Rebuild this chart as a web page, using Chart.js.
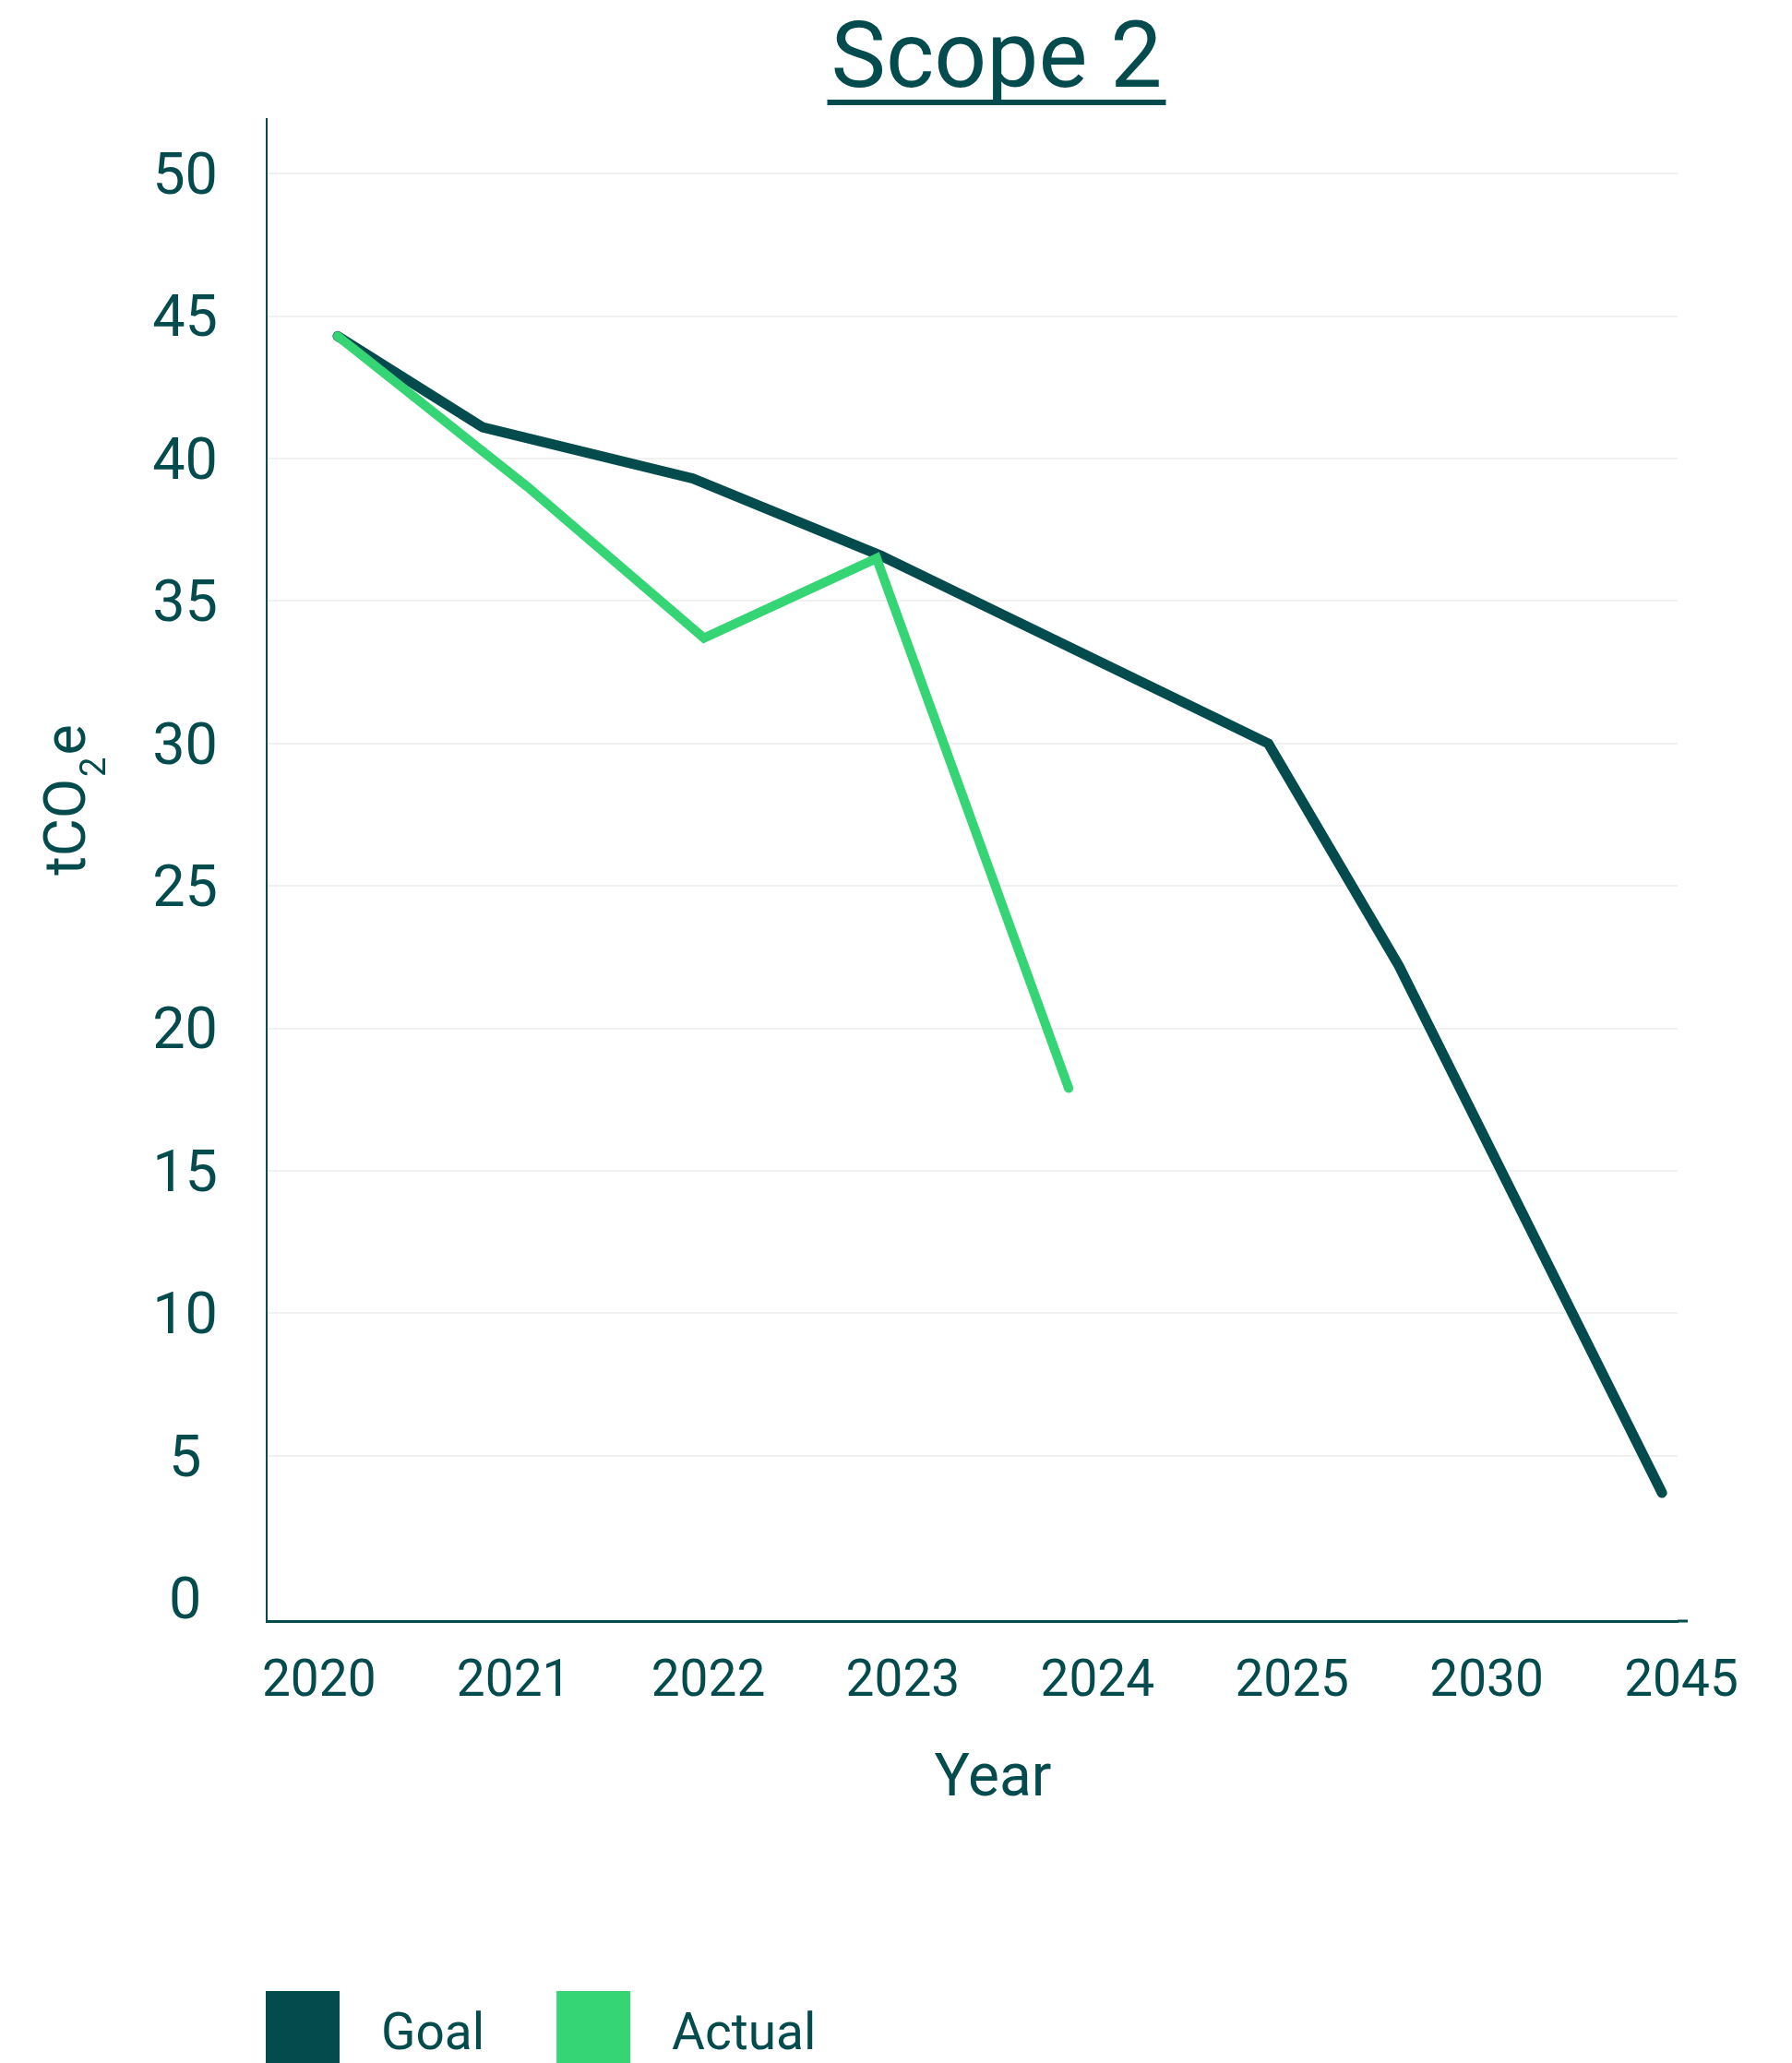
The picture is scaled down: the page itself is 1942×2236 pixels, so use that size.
<!DOCTYPE html>
<html>
<head>
<meta charset="utf-8">
<title>Scope 2</title>
<script src="https://cdn.jsdelivr.net/npm/chart.js@4.4.1/dist/chart.umd.min.js"></script>
<style>
  html, body { margin: 0; padding: 0; background: #ffffff; }
  #wrap { width: 1942px; height: 2236px; position: relative; }
</style>
</head>
<body>
<div id="wrap"><canvas id="scope2"></canvas></div>
<script>
// Year labels along the horizontal axis
const categories = ['2020', '2021', '2022', '2023', '2024', '2025', '2030', '2045'];

// Vertex placement along the year axis, in category steps
const goalPositions = [0.096, 0.841, 1.922, 2.885, 3.852, 4.878, 5.549, 6.901];
const goalValues = [44.3, 41.1, 39.3, 36.6, 33.4, 30.0, 22.2, 3.7];

const actualPositions = [0.096, 1.073, 1.978, 2.865, 3.852];
const actualValues = [44.3, 39.0, 33.7, 36.5, 17.9];

// Emissions ticks (tCO2e)
const yTicks = [0, 5, 10, 15, 20, 25, 30, 35, 40, 45, 50];

const DARK = '#034b4d';
const GREEN = '#35d475';
const GRID = '#f1f1f1';
const FONT = 'Roboto, "Noto Sans", sans-serif';

// Title, axis titles, legend and the small axis extension are painted here
const decorations = {
  id: 'decorations',
  afterDraw(chart) {
    const ctx = chart.ctx;
    const area = chart.chartArea;
    ctx.save();
    ctx.fillStyle = DARK;
    ctx.strokeStyle = DARK;

    // underlined chart title
    ctx.font = '100px ' + FONT;
    ctx.textAlign = 'center';
    ctx.textBaseline = 'alphabetic';
    const title = 'Scope 2';
    const cx = 1080;
    ctx.fillText(title, cx, 94);
    const tw = ctx.measureText(title).width;
    ctx.fillRect(cx - tw / 2 - 4, 108, tw + 8, 6);

    // x-axis title
    ctx.font = '64px ' + FONT;
    ctx.fillText('Year', 1076, 1946);

    // y-axis title with subscript 2
    ctx.save();
    ctx.translate(92, 867);
    ctx.rotate(-Math.PI / 2);
    ctx.textAlign = 'left';
    ctx.font = '63px ' + FONT;
    const partA = 'tCO', partB = 'e';
    const wa = ctx.measureText(partA).width;
    const wb = ctx.measureText(partB).width;
    ctx.font = '38px ' + FONT;
    const ws = ctx.measureText('2').width;
    const gap = 2;
    let tx = -(wa + ws + wb + gap * 2) / 2;
    ctx.font = '63px ' + FONT;
    ctx.fillText(partA, tx, 0);
    tx += wa + gap;
    ctx.font = '38px ' + FONT;
    ctx.fillText('2', tx, 22);
    tx += ws + gap;
    ctx.font = '63px ' + FONT;
    ctx.fillText(partB, tx, 0);
    ctx.restore();

    // x axis line runs a little past the plot
    ctx.lineWidth = 3;
    ctx.beginPath();
    ctx.moveTo(area.right, area.bottom);
    ctx.lineTo(area.right + 11, area.bottom);
    ctx.stroke();

    // legend: square swatches with labels
    ctx.font = '55px ' + FONT;
    ctx.textAlign = 'left';
    let lx = area.left - 1;
    const boxTop = 2158, box = 80;
    chart.data.datasets.forEach(ds => {
      ctx.fillStyle = ds.borderColor;
      ctx.fillRect(lx, boxTop, box, box);
      ctx.fillStyle = DARK;
      ctx.fillText(ds.label, lx + box + 45, 2221);
      lx += box + 45 + ctx.measureText(ds.label).width + 78;
    });

    ctx.restore();
  }
};

new Chart(document.getElementById('scope2'), {
  type: 'line',
  data: {
    datasets: [
      {
        label: 'Goal',
        data: goalPositions.map((x, i) => ({ x, y: goalValues[i] })),
        borderColor: DARK,
        backgroundColor: DARK,
        borderWidth: 11,
        pointRadius: 0,
        borderCapStyle: 'round',
        borderJoinStyle: 'miter',
        tension: 0,
        fill: false,
        order: 1
      },
      {
        label: 'Actual',
        data: actualPositions.map((x, i) => ({ x, y: actualValues[i] })),
        borderColor: GREEN,
        backgroundColor: GREEN,
        borderWidth: 10,
        pointRadius: 0,
        borderCapStyle: 'round',
        borderJoinStyle: 'miter',
        tension: 0,
        fill: false,
        order: 0
      }
    ]
  },
  options: {
    responsive: true,
    maintainAspectRatio: false,
    devicePixelRatio: 1,
    animation: false,
    layout: { padding: { top: 129, right: 124, bottom: 359, left: 0 } },
    plugins: {
      legend: { display: false },
      tooltip: { enabled: false },
      title: { display: false }
    },
    scales: {
      x: {
        type: 'linear',
        min: -0.269,
        max: 6.981,
        afterBuildTicks: scale => { scale.ticks = categories.map((_, i) => ({ value: i })); },
        afterFit: scale => { scale.height = 120; },
        ticks: {
          callback: v => categories[v],
          autoSkip: false,
          maxRotation: 0,
          minRotation: 0,
          color: DARK,
          padding: 34,
          font: { family: FONT, size: 55 }
        },
        grid: { display: false, drawTicks: false },
        border: { display: true, color: DARK, width: 3 }
      },
      y: {
        min: -0.8,
        max: 51.92,
        afterBuildTicks: scale => { scale.ticks = yTicks.map(v => ({ value: v })); },
        afterFit: scale => { scale.width = 289; },
        ticks: {
          color: DARK,
          crossAlign: 'center',
          padding: 53,
          labelOffset: 6,
          font: { family: FONT, size: 63 }
        },
        grid: {
          color: c => (c.tick && c.tick.value === 0) ? 'rgba(0,0,0,0)' : GRID,
          lineWidth: 2,
          drawTicks: false
        },
        border: { display: true, color: DARK, width: 2 }
      }
    }
  },
  plugins: [decorations]
});
</script>
</body>
</html>
